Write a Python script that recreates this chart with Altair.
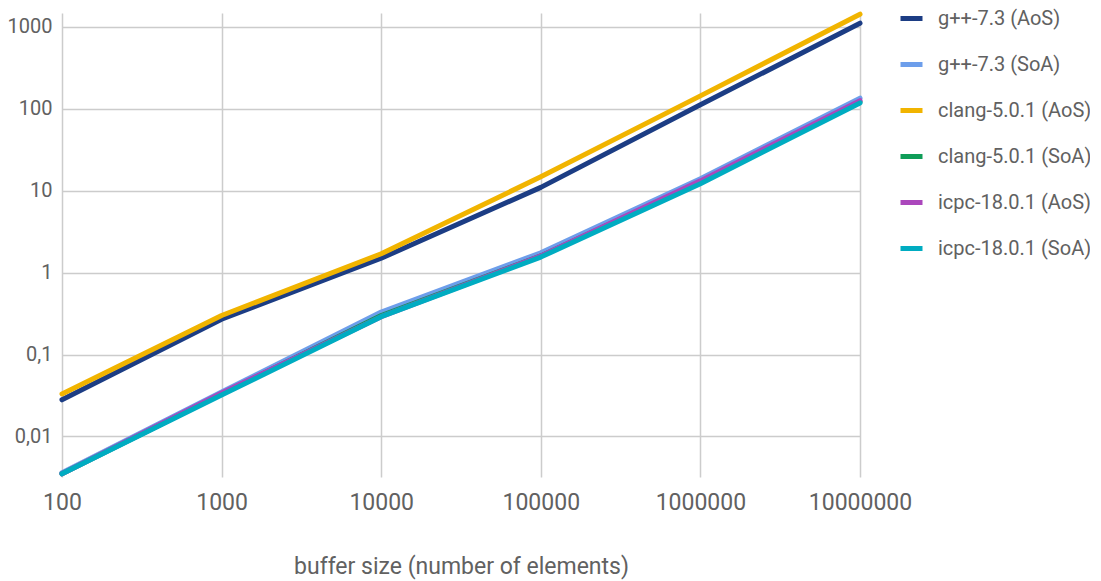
import altair as alt
import pandas as pd

sizes = [100, 1000, 10000, 100000, 1000000, 10000000]
series_names = ["g++-7.3 (AoS)", "g++-7.3 (SoA)", "clang-5.0.1 (AoS)",
                "clang-5.0.1 (SoA)", "icpc-18.0.1 (AoS)", "icpc-18.0.1 (SoA)"]
gpp_aos = [0.028, 0.27, 1.5, 11.0, 112, 1110]
gpp_soa = [0.0036, 0.035, 0.33, 1.75, 14.0, 135]
clang_aos = [0.033, 0.30, 1.7, 14.8, 144, 1430]
clang_soa = [0.0035, 0.033, 0.30, 1.6, 12.8, 122]
icpc_aos = [0.0035, 0.034, 0.29, 1.6, 13.2, 126]
icpc_soa = [0.0035, 0.032, 0.29, 1.55, 12.2, 118]
colors = ["#1c3d84", "#6d9eeb", "#f1b400", "#0f9d58", "#ab47bc", "#00acc1"]
widths = [5, 5, 3.5, 4, 4, 4]

all_vals = [gpp_aos, gpp_soa, clang_aos, clang_soa, icpc_aos, icpc_soa]
rows = []
for i, (name, vals) in enumerate(zip(series_names, all_vals)):
    for s, v in zip(sizes, vals):
        rows.append({"size": s, "time": v, "series": name, "ord": i})
df = pd.DataFrame(rows)

FONT = "Roboto"
GRAY = "#616161"

chart = alt.Chart(df).mark_line(strokeCap="round", strokeJoin="round").encode(
    x=alt.X("size:Q",
            scale=alt.Scale(type="log", domain=[100, 10000000], nice=False),
            axis=alt.Axis(values=sizes, format="d", title="buffer size (number of elements)",
                          grid=True, ticks=False, domain=False, labelPadding=14,
                          labelFlush=False, labelFontSize=23, titleFontSize=23,
                          titlePadding=41)),
    y=alt.Y("time:Q",
            scale=alt.Scale(type="log", domain=[0.0032, 1480], nice=False),
            axis=alt.Axis(values=[0.01, 0.1, 1, 10, 100, 1000],
                          labelExpr="replace(format(datum.value, ''), '.', ',')",
                          title=None, grid=True, ticks=False, domain=False,
                          labelFontSize=20, labelPadding=10)),
    color=alt.Color("series:N",
                    scale=alt.Scale(domain=series_names, range=colors),
                    legend=alt.Legend(title=None, orient="none", legendX=836, legendY=-8,
                                      symbolType="stroke", symbolSize=484,
                                      symbolStrokeWidth=6.5,
                                      rowPadding=22, labelOffset=13)),
    strokeWidth=alt.StrokeWidth("series:N",
                                scale=alt.Scale(domain=series_names, range=widths),
                                legend=None),
    order=alt.Order("ord:Q"),
).properties(
    width=798, height=464,
    autosize=alt.AutoSizeParams(type="none"),
    padding={"left": 54, "top": 5, "right": 230, "bottom": 112},
).configure_view(stroke=None).configure_axis(
    gridColor="#cccccc", gridWidth=1.5, labelFont=FONT,
    labelColor=GRAY, titleFont=FONT, titleColor=GRAY,
    titleFontWeight="normal",
).configure_legend(
    labelFont=FONT, labelFontSize=20, labelColor=GRAY, padding=0,
)

chart.save("out.html", embed_options={"renderer": "svg", "actions": False})
